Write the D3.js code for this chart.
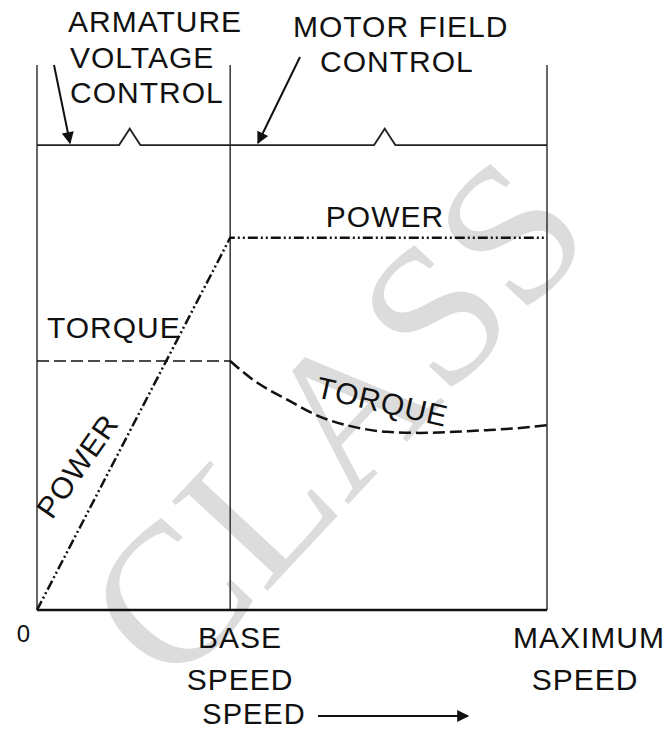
<!DOCTYPE html>
<html>
<head>
<meta charset="utf-8">
<style>
body { margin: 0; background: #fff; }
text { font-family: "Liberation Sans", Arial, sans-serif; fill: #111; }
</style>
</head>
<body>
<svg width="666" height="731"></svg>
<script src="https://d3js.org/d3.v7.min.js"></script>
<script>
// speed in units of base speed, value in % of frame height
var baseSpeed = 1, maxSpeed = 2.64;
var torqueConst = 45.7;     // constant torque below base speed
var powerPts = [[0, 0], [1, 68.3], [2.64, 68.3]];
var torqueSpeed = [1.0, 1.12, 1.30, 1.47, 1.64, 1.81, 1.98, 2.16, 2.33, 2.50, 2.64];
var torqueVal   = [45.7, 42.2, 38.5, 35.4, 33.6, 32.7, 32.5, 32.7, 33.0, 33.4, 33.9];
var bracketLevel = 85.3;
var bumps = [0.48, 1.80];

var svg = d3.select('svg');
var x = d3.scaleLinear().domain([0, maxSpeed]).range([37, 547]);
var y = d3.scaleLinear().domain([0, 100]).range([610, 65]);

svg.append('defs').append('marker')
  .attr('id', 'ah').attr('viewBox', '0 0 10 10').attr('refX', 9).attr('refY', 5)
  .attr('markerWidth', 18).attr('markerHeight', 12).attr('markerUnits', 'userSpaceOnUse')
  .attr('orient', 'auto')
  .append('path').attr('d', 'M0,0 L10,5 L0,10 Z').attr('fill', '#111');

// watermark
svg.append('text').text('CLASS')
  .attr('transform', 'translate(385,465) rotate(-47)')
  .attr('text-anchor', 'middle')
  .style('font-family', '"Liberation Serif", serif')
  .style('font-size', '200px').style('fill', '#dcdcdc');

// vertical frame lines
svg.selectAll('.vl').data([0, baseSpeed, maxSpeed]).enter().append('line')
  .attr('x1', d => x(d)).attr('x2', d => x(d))
  .attr('y1', y(100)).attr('y2', y(0))
  .attr('stroke', '#333').attr('stroke-width', 1.5);

// bottom axis
svg.append('line').attr('x1', x(0)).attr('x2', x(maxSpeed))
  .attr('y1', y(0)).attr('y2', y(0)).attr('stroke', '#111').attr('stroke-width', 2.5);

// bracket line with bumps
var bp = [[0, bracketLevel]];
bumps.forEach(function(b) {
  bp.push([b - 0.055, bracketLevel], [b, bracketLevel + 3], [b + 0.055, bracketLevel]);
});
bp.push([maxSpeed, bracketLevel]);
svg.append('path').attr('d', d3.line().x(d => x(d[0])).y(d => y(d[1]))(bp))
  .attr('fill', 'none').attr('stroke', '#222').attr('stroke-width', 1.8);

// power
svg.append('path').attr('d', d3.line().x(d => x(d[0])).y(d => y(d[1]))(powerPts))
  .attr('fill', 'none').attr('stroke', '#111').attr('stroke-width', 2.5)
  .attr('stroke-dasharray', '10,3,2,3,2,3');

// torque constant part
svg.append('line').attr('x1', x(0)).attr('x2', x(baseSpeed))
  .attr('y1', y(torqueConst)).attr('y2', y(torqueConst))
  .attr('stroke', '#111').attr('stroke-width', 1.5).attr('stroke-dasharray', '12,5');

// torque falling part
var tq = torqueSpeed.map((s, i) => [s, torqueVal[i]]);
svg.append('path').attr('d', d3.line().curve(d3.curveMonotoneX).x(d => x(d[0])).y(d => y(d[1]))(tq))
  .attr('fill', 'none').attr('stroke', '#111').attr('stroke-width', 2.5)
  .attr('stroke-dasharray', '12,5');

function label(t, px, py, size, anchor, rot) {
  var e = svg.append('text').text(t).attr('text-anchor', anchor || 'start')
    .style('font-size', size + 'px').style('letter-spacing', '1px');
  if (rot) e.attr('transform', 'translate(' + px + ',' + py + ') rotate(' + rot + ')');
  else e.attr('x', px).attr('y', py);
  return e;
}

label('ARMATURE', 68, 32, 30);
label('VOLTAGE', 70, 68, 30);
label('CONTROL', 70, 103, 30);
label('MOTOR FIELD', 293, 37, 30);
label('CONTROL', 320, 72, 30);
label('POWER', 385, 227, 30, 'middle');
label('TORQUE', 47, 338, 30);
label('POWER', 86, 472, 30, 'middle', -55);
label('TORQUE', 380, 412, 30, 'middle', 13);
label('0', 24, 642, 24, 'middle');
label('BASE', 240, 648, 30, 'middle');
label('SPEED', 240, 690, 30, 'middle');
label('MAXIMUM', 589, 648, 30, 'middle');
label('SPEED', 585, 690, 30, 'middle');
label('SPEED', 254, 724, 29, 'middle');

// arrows
var arrows = [[54, 65, 70, 143], [300, 57, 258, 143], [318, 716, 468, 716]];
svg.selectAll('.ar').data(arrows).enter().append('line')
  .attr('x1', d => d[0]).attr('y1', d => d[1]).attr('x2', d => d[2]).attr('y2', d => d[3])
  .attr('stroke', '#111').attr('stroke-width', 2).attr('marker-end', 'url(#ah)');
</script>
</body>
</html>
